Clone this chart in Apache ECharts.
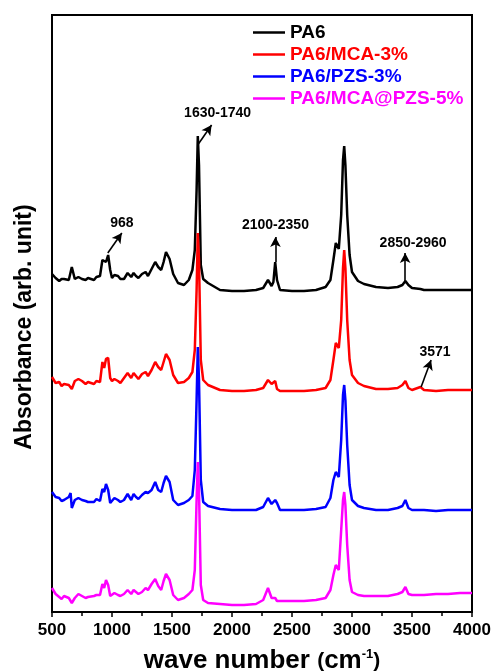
<!DOCTYPE html>
<html>
<head>
<meta charset="utf-8">
<script src="https://cdn.jsdelivr.net/npm/echarts@6/dist/echarts.min.js"></script>
<style>
  html, body { margin: 0; padding: 0; background: #fff; }
  #chart { width: 497px; height: 671px; }
</style>
</head>
<body>
<div id="chart"></div>
<script>
// FTIR spectra, vertically offset (arbitrary absorbance units)
const wavenumbers = [500, 530, 560, 580, 600, 640, 655, 665, 690, 720,
  750, 780, 800, 850, 870, 900, 920, 935, 950, 968,
  985, 1000, 1020, 1050, 1070, 1100, 1130, 1160, 1180, 1200,
  1220, 1250, 1280, 1300, 1330, 1360, 1385, 1410, 1430, 1450,
  1480, 1510, 1550, 1600, 1640, 1670, 1690, 1705, 1715, 1725,
  1740, 1760, 1800, 1900, 2000, 2100, 2200, 2260, 2300, 2330,
  2345, 2360, 2375, 2400, 2500, 2600, 2700, 2780, 2820, 2845,
  2865, 2890, 2910, 2925, 2935, 2945, 2960, 2980, 3000, 3050,
  3100, 3200, 3300, 3380, 3420, 3445, 3470, 3500, 3570, 3600,
  3700, 3800, 3900, 4000];

const absPA6 = [3.38, 3.34, 3.31, 3.33, 3.33, 3.32, 3.33, 3.45, 3.33, 3.35,
  3.33, 3.32, 3.34, 3.32, 3.35, 3.36, 3.52, 3.54, 3.50, 3.57,
  3.42, 3.34, 3.37, 3.36, 3.33, 3.33, 3.39, 3.35, 3.39, 3.36,
  3.34, 3.38, 3.40, 3.36, 3.43, 3.50, 3.45, 3.42, 3.50, 3.60,
  3.53, 3.38, 3.29, 3.27, 3.32, 3.42, 3.62, 4.22, 4.76, 4.47,
  3.47, 3.33, 3.29, 3.22, 3.21, 3.21, 3.22, 3.24, 3.32, 3.26,
  3.30, 3.50, 3.32, 3.22, 3.21, 3.21, 3.22, 3.25, 3.32, 3.52,
  3.69, 3.63, 3.97, 4.52, 4.66, 4.47, 3.97, 3.57, 3.40, 3.31,
  3.28, 3.25, 3.24, 3.25, 3.27, 3.31, 3.27, 3.24, 3.23, 3.22,
  3.22, 3.22, 3.22, 3.22];

const absMCA3 = [2.35, 2.29, 2.30, 2.26, 2.28, 2.27, 2.29, 2.23, 2.31, 2.33,
  2.31, 2.28, 2.30, 2.28, 2.31, 2.30, 2.50, 2.44, 2.53, 2.54,
  2.34, 2.31, 2.33, 2.31, 2.29, 2.34, 2.39, 2.34, 2.39, 2.36,
  2.33, 2.38, 2.40, 2.36, 2.42, 2.50, 2.45, 2.42, 2.50, 2.58,
  2.52, 2.37, 2.29, 2.30, 2.34, 2.40, 2.62, 3.22, 3.79, 3.52,
  2.52, 2.32, 2.27, 2.22, 2.21, 2.21, 2.22, 2.24, 2.32, 2.28,
  2.30, 2.31, 2.23, 2.21, 2.21, 2.21, 2.22, 2.24, 2.32, 2.52,
  2.69, 2.64, 2.92, 3.44, 3.62, 3.44, 2.92, 2.52, 2.37, 2.29,
  2.26, 2.23, 2.23, 2.24, 2.27, 2.31, 2.24, 2.22, 2.25, 2.22,
  2.21, 2.22, 2.22, 2.22];

const absPZS3 = [1.20, 1.15, 1.14, 1.11, 1.12, 1.15, 1.19, 1.04, 1.12, 1.14,
  1.12, 1.11, 1.10, 1.10, 1.13, 1.11, 1.23, 1.20, 1.28, 1.22,
  1.09, 1.10, 1.14, 1.12, 1.10, 1.12, 1.18, 1.12, 1.18, 1.15,
  1.13, 1.17, 1.20, 1.19, 1.22, 1.30, 1.22, 1.20, 1.29, 1.36,
  1.30, 1.12, 1.07, 1.09, 1.12, 1.16, 1.42, 2.12, 2.65, 2.32,
  1.32, 1.10, 1.06, 1.03, 1.02, 1.02, 1.02, 1.05, 1.14, 1.08,
  1.10, 1.12, 1.09, 1.02, 1.02, 1.02, 1.03, 1.05, 1.14, 1.32,
  1.40, 1.35, 1.72, 2.17, 2.27, 2.12, 1.67, 1.27, 1.12, 1.06,
  1.04, 1.02, 1.02, 1.04, 1.06, 1.12, 1.04, 1.02, 1.02, 1.02,
  1.01, 1.02, 1.02, 1.02];

const absMCAPZS5 = [0.24, 0.18, 0.15, 0.13, 0.16, 0.14, 0.13, 0.09, 0.14, 0.18,
  0.16, 0.14, 0.15, 0.16, 0.17, 0.17, 0.28, 0.24, 0.32, 0.27,
  0.16, 0.16, 0.19, 0.17, 0.16, 0.18, 0.22, 0.18, 0.22, 0.20,
  0.18, 0.20, 0.24, 0.22, 0.28, 0.33, 0.26, 0.22, 0.31, 0.38,
  0.32, 0.17, 0.12, 0.14, 0.18, 0.22, 0.42, 1.12, 1.50, 1.22,
  0.27, 0.12, 0.09, 0.08, 0.07, 0.07, 0.08, 0.12, 0.24, 0.14,
  0.12, 0.14, 0.11, 0.11, 0.11, 0.11, 0.12, 0.14, 0.22, 0.37,
  0.47, 0.42, 0.82, 1.12, 1.20, 1.07, 0.67, 0.32, 0.20, 0.17,
  0.16, 0.16, 0.16, 0.18, 0.20, 0.25, 0.18, 0.17, 0.17, 0.17,
  0.18, 0.18, 0.19, 0.19];

const seriesNames = ['PA6', 'PA6/MCA-3%', 'PA6/PZS-3%', 'PA6/MCA@PZS-5%'];
const seriesColors = ['#000000', '#ff0000', '#0000ff', '#ff00ff'];
const seriesValues = [absPA6, absMCA3, absPZS3, absMCAPZS5];

const xTickMin = 500, xTickMax = 4000, xTickStep = 500;

// Band annotations: label text, label anchor, arrow tail, arrow head
const bandLabels = ['968', '1630-1740', '2100-2350', '2850-2960', '3571'];
const bandLabelAt = [[1082, 3.89], [1880, 4.99], [2362, 3.87], [3509, 3.69], [3692, 2.60]];
const bandArrowFrom = [[965, 3.59], [1714, 4.67], [2362, 3.50], [3443, 3.30], [3576, 2.25]];
const bandArrowTo = [[1082, 3.79], [1830, 4.87], [2362, 3.75], [3443, 3.59], [3659, 2.52]];

const FONT = '"Liberation Sans", Arial, Helvetica, sans-serif';

const chart = echarts.init(document.getElementById('chart'), null, { renderer: 'canvas' });

const series = seriesNames.map((name, k) => ({
  name: name,
  type: 'line',
  symbol: 'none',
  smooth: false,
  z: 2 + k,
  data: wavenumbers.map((w, i) => [w, seriesValues[k][i]]),
  lineStyle: { color: seriesColors[k], width: 2.5 },
  itemStyle: { color: seriesColors[k] }
}));

// arrows and band labels ride on the first spectrum
series[0].markLine = {
  silent: true,
  symbol: ['none', 'arrow'],
  symbolSize: [8, 10],
  lineStyle: { color: '#000', width: 1.6, type: 'solid' },
  label: { show: false },
  emphasis: { disabled: true },
  data: bandArrowFrom.map((p, i) => [{ coord: p }, { coord: bandArrowTo[i] }])
};
series[0].markPoint = {
  silent: true,
  symbol: 'rect',
  symbolSize: 1,
  itemStyle: { color: 'rgba(0,0,0,0)' },
  label: {
    show: true,
    position: 'inside',
    formatter: p => p.name,
    color: '#000',
    fontFamily: FONT,
    fontWeight: 'bold',
    fontSize: 14
  },
  data: bandLabels.map((t, i) => ({ name: t, coord: bandLabelAt[i] }))
};

chart.setOption({
  animation: false,
  backgroundColor: '#fff',
  grid: {
    left: 52, right: 25, top: 15, bottom: 59,
    outerBoundsMode: 'none',
    containLabel: false,
    show: true, borderColor: '#000', borderWidth: 2, backgroundColor: 'transparent'
  },
  legend: {
    orient: 'vertical',
    left: 253,
    top: 23,
    padding: 0,
    itemWidth: 32,
    itemHeight: 14,
    itemGap: 3,
    icon: 'path://M0,6 L32,6 L32,8.5 L0,8.5 Z',
    data: seriesNames.map((n, k) => ({
      name: n,
      itemStyle: { color: seriesColors[k] },
      textStyle: { color: seriesColors[k] }
    })),
    textStyle: { fontFamily: FONT, fontWeight: 'bold', fontSize: 19, padding: [0, 0, 0, 0] }
  },
  xAxis: {
    type: 'value',
    min: xTickMin,
    max: xTickMax,
    interval: xTickStep,
    axisLine: { show: true, lineStyle: { color: '#000', width: 2 } },
    axisTick: { show: true, inside: false, length: 5, lineStyle: { color: '#000', width: 1.5 } },
    minorTick: { show: true, splitNumber: 2, length: 4, lineStyle: { color: '#000', width: 1.5 } },
    splitLine: { show: false },
    axisLabel: {
      color: '#000', fontFamily: FONT, fontWeight: 'bold', fontSize: 17, margin: 10,
      formatter: v => String(v)
    },
    name: '{a|wave number }{p|(}{a|cm}{s|-1}{p|)}',
    nameLocation: 'middle',
    nameGap: 36,
    nameTextStyle: {
      rich: {
        a: { fontFamily: FONT, fontWeight: 'bold', fontSize: 26, color: '#000' },
        p: { fontFamily: FONT, fontWeight: 'bold', fontSize: 21, color: '#000' },
        s: { fontFamily: FONT, fontWeight: 'bold', fontSize: 13, color: '#000', verticalAlign: 'top', padding: [0, 0, 12, 0] }
      }
    }
  },
  yAxis: {
    type: 'value',
    min: 0,
    max: 5.97,
    axisLine: { show: true, lineStyle: { color: '#000', width: 2 } },
    axisTick: { show: false },
    axisLabel: { show: false },
    splitLine: { show: false }
  },
  graphic: [{
    type: 'text',
    x: 25,
    y: 327,
    rotation: Math.PI / 2,
    style: {
      text: 'Absorbance (arb. unit)',
      fill: '#000',
      font: 'bold 23px ' + FONT,
      textAlign: 'center',
      textVerticalAlign: 'middle'
    }
  }],
  series: series
});
</script>
</body>
</html>
